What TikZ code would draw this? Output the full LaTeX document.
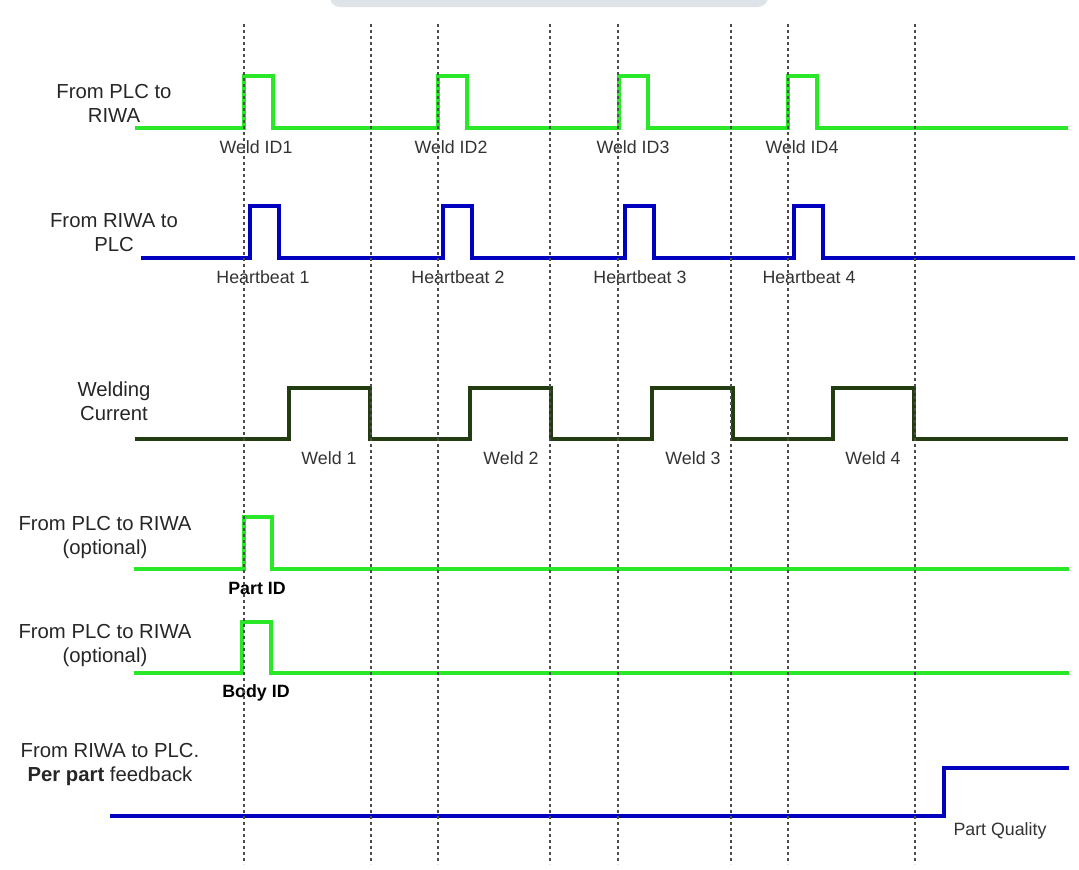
\documentclass[tikz,border=0pt]{standalone}
\usepackage{fontspec}
\setmainfont{Liberation Sans}
\usepackage{xcolor}
\usepackage{tikz}
\usetikzlibrary{positioning}
\definecolor{plcgreen}{RGB}{40,232,40}
\definecolor{riwablue}{RGB}{0,0,190}
\definecolor{weldgreen}{RGB}{36,60,18}
\definecolor{bargrey}{RGB}{221,227,230}
\definecolor{labgrey}{RGB}{51,51,51}
\tikzstyle{signame} = [align=center, inner sep=0pt, text=black!85,
                       font=\fontsize{20.3}{24}\selectfont]
\tikzstyle{evlabel} = [inner sep=0pt, text=labgrey,
                       font=\fontsize{17.8}{20}\selectfont]
\tikzstyle{idlabel} = [evlabel, text=black, font=\fontsize{17.8}{20}\selectfont\bfseries]
\tikzstyle{wave}    = [line width=3.2pt, line join=miter]
\tikzstyle{gwave}   = [wave, draw=plcgreen]
\tikzstyle{bwave}   = [wave, draw=riwablue]
\tikzstyle{dwave}   = [wave, draw=weldgreen]
\tikzstyle{tick}    = [line width=1.2pt, draw=black!70, dash pattern=on 3pt off 3pt]

\begin{document}
\begin{tikzpicture}[x=1pt, y=-1pt]
  \useasboundingbox (0,0) rectangle (1079,870);
  \fill[bargrey, rounded corners=10pt] (330,-30) rectangle (768,7);

  % Signal names
  \node[signame] (plc1)  at (114,103)   {From PLC to\\RIWA};
  \node[signame] (riwa1) at (114,232.5) {From RIWA to\\PLC};
  \node[signame] (cur)   at (114,401.5) {Welding\\Current};
  \node[signame] (plc2)  at (105,537.5) {From PLC to RIWA\\(optional)};
  \node[signame] (plc3)  at (105,645.8) {From PLC to RIWA\\(optional)};
  \node[signame] (riwa2) at (110,765)   {From RIWA to PLC.\\\textbf{Per part} feedback};

  % Waveforms
  \draw[gwave] (135,128) \foreach \x in {244,438,619,788}
    { -- (\x,128) -- (\x,76) -- ({\x+29},76) -- ({\x+29},128) } -- (1068,128);
  \draw[bwave] (141,258) \foreach \x in {250,443,625,794}
    { -- (\x,258) -- (\x,206) -- ({\x+29},206) -- ({\x+29},258) } -- (1075,258);
  \draw[dwave] (135,439) \foreach \x in {289,470,652,833}
    { -- (\x,439) -- (\x,388) -- ({\x+81},388) -- ({\x+81},439) } -- (1068,439);
  \draw[gwave] (134,569) -- (244,569) -- (244,517) -- (272,517) -- (272,569) -- (1069,569);
  \draw[gwave] (134,673) -- (242,673) -- (242,622) -- (271,622) -- (271,673) -- (1069,673);
  \draw[bwave] (110,816) -- (944,816) -- (944,768) -- (1069,768);

  % Event labels
  \node[evlabel] (wid1) at (256,147) {Weld ID1};
  \node[evlabel] (wid2) at (451,147) {Weld ID2};
  \node[evlabel] (wid3) at (633,147) {Weld ID3};
  \node[evlabel] (wid4) at (802,147) {Weld ID4};
  \node[evlabel] (hb1)  at (263,277) {Heartbeat 1};
  \node[evlabel] (hb2)  at (458,277) {Heartbeat 2};
  \node[evlabel] (hb3)  at (640,277) {Heartbeat 3};
  \node[evlabel] (hb4)  at (809,277) {Heartbeat 4};
  \node[evlabel] (w1)   at (329,458) {Weld 1};
  \node[evlabel] (w2)   at (511,458) {Weld 2};
  \node[evlabel] (w3)   at (693,458) {Weld 3};
  \node[evlabel] (w4)   at (873,458) {Weld 4};
  \node[idlabel] (pid)  at (257,588) {Part ID};
  \node[idlabel] (bid)  at (256,693) {Body ID};
  \node[evlabel] (pq)   at (1000,831) {Part Quality};

  % Time marks
  \foreach \x [count=\i] in {244,371,438,550,618,731,788,915}
    \draw[tick] (\x,24) coordinate (t\i) -- (\x,864);
\end{tikzpicture}
\end{document}
